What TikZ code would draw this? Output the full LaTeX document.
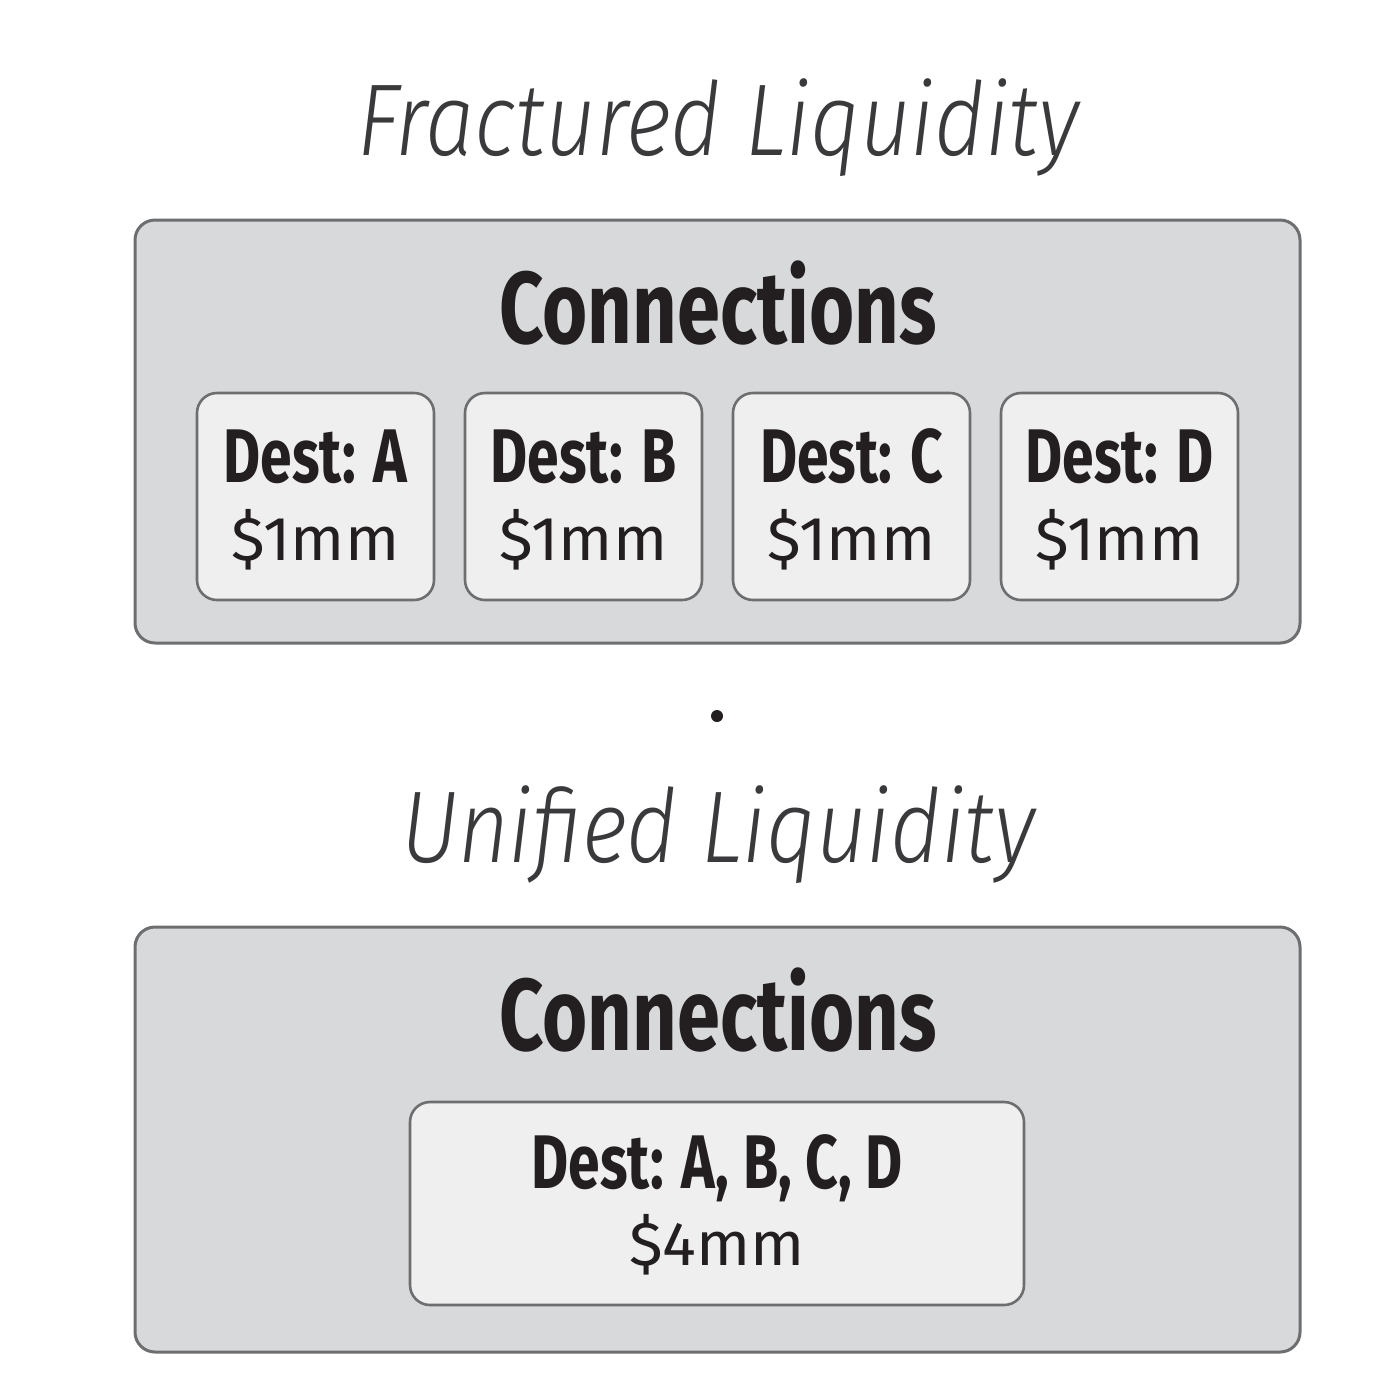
\documentclass[tikz,border=0pt]{standalone}
\usepackage{fontspec}
\setmainfont{Fira Sans}
\newfontfamily\titlefont{Fira Sans Light Italic}[FakeStretch=0.86]
\newfontfamily\headfont{Fira Sans}[FakeStretch=0.76]
\newfontfamily\destfont{Fira Sans}[FakeStretch=0.75]
\newfontfamily\amtfont{Fira Sans}[FakeStretch=1.02]
\definecolor{outerfill}{HTML}{D8D9DB}
\definecolor{innerfill}{HTML}{EFEFF0}
\definecolor{edge}{HTML}{6D6E70}
\definecolor{ink}{HTML}{231F20}
\definecolor{titleink}{HTML}{3A3A3C}
\tikzset{
  outerbox/.style={draw=edge, fill=outerfill, line width=1.5pt, rounded corners=10pt},
  innerbox/.style={draw=edge, fill=innerfill, line width=1.3pt, rounded corners=10pt},
  titletext/.style={anchor=base, inner sep=0pt, text=titleink, font=\titlefont\fontsize{51}{51}\selectfont},
  headtext/.style={anchor=base, inner sep=0pt, text=ink, font=\headfont\bfseries\fontsize{51}{51}\selectfont},
  desttext/.style={anchor=base, inner sep=0pt, text=ink, font=\destfont\bfseries\fontsize{38}{38}\selectfont},
  amttext/.style={anchor=base, inner sep=0pt, text=ink, font=\amtfont\fontsize{31}{31}\selectfont},
}
\begin{document}
\begin{tikzpicture}[x=0.5pt, y=-0.5pt]
\useasboundingbox (0,0) rectangle (1400,1393);
% Top section
\node[titletext] (t1) at (718,155) {Fractured Liquidity};
\draw[outerbox] (135,220) rectangle (1300,643);
\node[headtext] (c1) at (718,343) {Connections};
\foreach \n/\x/\l in {a/197/A, b/465/B, c/733/C, d/1001/D} {
  \draw[innerbox] (\x,393) rectangle ++(237,207);
  \node[desttext] (d\n) at (\x+118.5,482) {Dest: \l};
  \node[amttext] (m\n) at (\x+118.5,560) {\$1mm};
}
% dot
\fill[ink] (717,716) circle (6);
% Bottom section
\node[titletext] (t2) at (718,862) {Unified Liquidity};
\draw[outerbox] (135,927) rectangle (1300,1352);
\node[headtext] (c2) at (718,1050) {Connections};
\draw[innerbox] (410,1102) rectangle (1024,1305);
\node[desttext] (dall) at (717,1188) {Dest: A, B, C, D};
\node[amttext] (mall) at (717,1265) {\$4mm};
\end{tikzpicture}
\end{document}
